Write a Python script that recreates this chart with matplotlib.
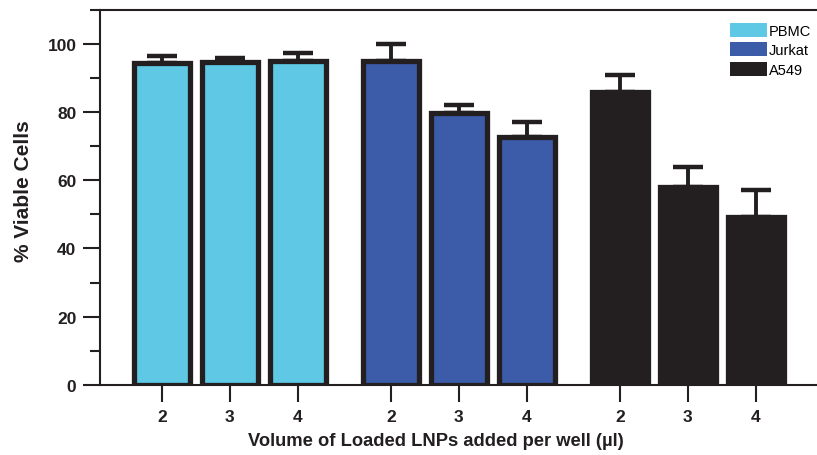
import matplotlib
matplotlib.use("Agg")
import matplotlib.pyplot as plt
from matplotlib.patches import Patch
from matplotlib.ticker import FixedLocator

plt.rcParams["font.family"] = ["Liberation Sans", "DejaVu Sans"]

cells = ["PBMC", "Jurkat", "A549"]
volumes = ["2", "3", "4"]
viable = {
    "PBMC": [94.4, 94.6, 95.0],
    "Jurkat": [94.8, 79.7, 72.6],
    "A549": [85.9, 57.9, 49.3],
}
errors = {
    "PBMC": [1.9, 1.3, 2.4],
    "Jurkat": [5.0, 2.2, 4.4],
    "A549": [4.8, 6.0, 7.7],
}
colors = {
    "PBMC": "#5ec8e5",
    "Jurkat": "#3c5ba9",
    "A549": "#231f20",
}

edge = "#231f20"
gap = 0.37

fig = plt.figure(figsize=(8.17, 4.56), dpi=100)
ax = fig.add_axes([100 / 817, 70 / 456, 717 / 817, 375.5 / 456])

ticks = []
labels = []
for g, cell in enumerate(cells):
    xs = [g * (3 + gap) + i for i in range(3)]
    ax.bar(xs, viable[cell], width=0.83, color=colors[cell], edgecolor=edge,
           linewidth=3.8, zorder=3)
    ax.errorbar(xs, viable[cell], yerr=[[0] * 3, errors[cell]], fmt="none",
                ecolor=edge, elinewidth=2.8, capsize=11, capthick=3.2, zorder=2)
    ticks += xs
    labels += volumes

ax.set_xlim(-0.91, 2 * (3 + gap) + 2 + 0.9)
ax.set_ylim(0, 110)
ax.set_xticks(ticks)
ax.set_xticklabels(labels)
ax.set_yticks([0, 20, 40, 60, 80, 100])
ax.yaxis.set_minor_locator(FixedLocator([10, 30, 50, 70, 90, 110]))

for side in ["left", "bottom", "top"]:
    ax.spines[side].set_linewidth(1.5)
    ax.spines[side].set_color(edge)
ax.spines["right"].set_visible(False)

ax.tick_params(axis="both", which="major", length=12, width=1.5, color=edge,
               labelsize=12.5, pad=5)
ax.tick_params(axis="y", which="minor", length=7, width=1.5, color=edge)
for t in ax.get_xticklabels() + ax.get_yticklabels():
    t.set_fontweight("bold")
    t.set_color(edge)

ax.set_ylabel("% Viable Cells", fontsize=15, fontweight="bold", color=edge)
ax.yaxis.set_label_coords(-0.094, 0.519)
ax.set_xlabel("Volume of Loaded LNPs added per well (\u00b5l)", fontsize=13.2,
              fontweight="bold", color=edge)
ax.xaxis.set_label_coords(0.4686, -0.125)

handles = [Patch(facecolor=colors[c], edgecolor="none", label=c) for c in cells]
ax.legend(handles=handles, loc="upper right", bbox_to_anchor=(1.008, 0.996),
          frameon=False, fontsize=10.5, handlelength=2.5, handleheight=1.1,
          handletextpad=0.15, labelspacing=0.32, borderaxespad=0.4)

fig.savefig("out.png", dpi=100)
